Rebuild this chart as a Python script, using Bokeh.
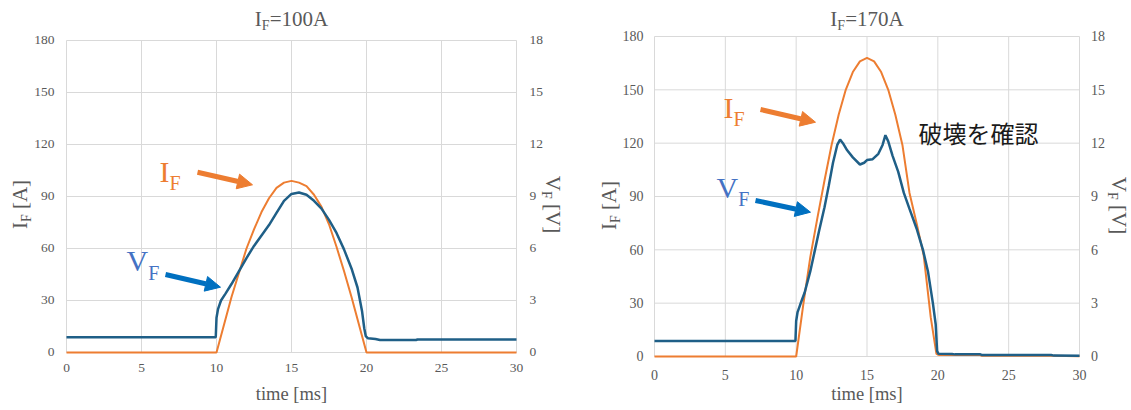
import math
from bokeh.plotting import figure
from bokeh.models import Range1d, Arrow, NormalHead
from bokeh.core.properties import value
from bokeh.layouts import row
from bokeh.embed import file_html
from bokeh.resources import INLINE

# ---------------- data ----------------
x_ticks = [0, 5, 10, 15, 20, 25, 30]
i_ticks = [0, 30, 60, 90, 120, 150, 180]
v_ticks = [0, 3, 6, 9, 12, 15, 18]
x_labels = [str(v) for v in x_ticks]
i_labels = [str(v) for v in i_ticks]
v_labels = [str(v) for v in v_ticks]

titles = ["100A", "170A"]

# left chart (IF = 100 A)
t_if_left = [0, 10, 10.5, 11, 11.5, 12, 12.5, 13, 13.5, 14, 14.5, 15, 15.5, 16, 16.5,
             17, 17.5, 18, 18.5, 19, 19.5, 20, 30]
if_left = [0, 0, 16, 32, 46, 60, 71, 81, 89, 95, 98, 99, 98, 96, 91,
           84, 74, 61, 47, 32, 16, 0, 0]
t_vf_left = [0, 9.95, 10.0, 10.1, 10.3, 10.6, 11, 11.5, 12, 12.5, 13, 13.5, 14, 14.5,
             15, 15.5, 16, 16.5, 17, 17.5, 18, 18.5, 19, 19.4, 19.7, 19.85, 19.95,
             20.1, 20.6, 20.9, 23.3, 23.4, 30]
vf_left = [0.88, 0.88, 2.0, 2.5, 3.0, 3.4, 3.95, 4.7, 5.45, 6.15, 6.75, 7.35, 8.05, 8.75,
           9.15, 9.23, 9.1, 8.75, 8.3, 7.65, 6.9, 5.95, 4.85, 3.75, 2.4, 1.4, 0.95,
           0.82, 0.78, 0.72, 0.72, 0.75, 0.75]

# right chart (IF = 170 A)
t_if_right = [0, 10, 10.5, 11, 11.5, 12, 12.5, 13, 13.5, 14, 14.5, 15, 15.5, 16, 16.5,
              17, 17.5, 18, 18.5, 19, 19.5, 19.9, 20.1, 23, 23.1, 28, 30]
if_right = [0, 0, 29, 56, 78, 99, 119, 136, 150, 160, 166, 168, 166, 160, 150,
            136, 119, 92, 75, 57, 22, 1.5, 0.8, 0.8, 0.4, 0.4, 0.2]
t_vf_right = [0, 9.95, 10.0, 10.1, 10.3, 10.6, 11, 11.3, 11.6, 12, 12.3, 12.6, 12.9, 13.1,
              13.3, 13.6, 14, 14.5, 14.8, 15, 15.4, 15.8, 16.1, 16.3, 16.5, 16.8, 17.2,
              17.6, 18, 18.5, 18.95, 19.3, 19.65, 19.85, 19.95, 20.05, 21, 21.2, 23,
              23.1, 28, 28.2, 30]
vf_right = [0.87, 0.87, 2.0, 2.5, 2.95, 3.6, 4.8, 5.9, 7.0, 8.4, 9.6, 10.9, 11.9, 12.2,
            12.0, 11.6, 11.2, 10.8, 10.9, 11.05, 11.1, 11.4, 11.9, 12.45, 12.1, 11.3, 10.4,
            9.2, 8.3, 7.2, 6.0, 4.8, 3.0, 1.8, 0.3, 0.15, 0.14, 0.12, 0.12,
            0.09, 0.08, 0.05, 0.04]

ORANGE = "#ED7D31"
BLUE_LINE = "#1F5F87"
BLUE_TEXT = "#4472C4"
BLUE_ARROW = "#0070C0"
GRAY = "#595959"
GRID = "#D9D9D9"
SERIF = "Liberation Serif"
H = 410
BASE_FIX = 0.34  # renderer draws the "alphabetic" anchor about a third of an em high

# Times-like advance widths (em)
ADV = {'I': 0.333, 'F': 0.556, 'V': 0.722, '=': 0.564, 'A': 0.722, ' ': 0.25,
       '[': 0.333, ']': 0.333}


def tw(s, size):
    return sum(ADV.get(c, 0.5) for c in s) * size


class Geom:
    def __init__(self, off, width, fl, ft, fr, fb):
        self.off, self.w = off, width
        self.fl, self.ft, self.fr, self.fb = fl - off, ft, fr - off, fb
        self.sx = (self.fr - self.fl) / (x_ticks[-1] - x_ticks[0])
        self.sy = (self.fb - self.ft) / (i_ticks[-1] - i_ticks[0])
        self.vr = (i_ticks[-1] - i_ticks[0]) / (v_ticks[-1] - v_ticks[0])

    def x(self, px):
        return (px - self.off - self.fl) / self.sx

    def y(self, py):
        return (self.fb - py) / self.sy


def make_chart(g):
    xr = Range1d(-g.fl / g.sx, (g.w - g.fl) / g.sx)
    yr = Range1d(-(H - g.fb) / g.sy, i_ticks[-1] + g.ft / g.sy)
    p = figure(width=g.w, height=H, x_range=xr, y_range=yr, title=None,
               output_backend="svg", toolbar_location=None,
               x_axis_location=None, y_axis_location=None, min_border=0,
               background_fill_color="white", border_fill_color="white")
    p.outline_line_color = None
    p.grid.visible = False
    p.extra_y_ranges = {"v": Range1d(yr.start / g.vr, yr.end / g.vr)}
    n = len(x_ticks)
    m = len(i_ticks)
    p.segment(x0=x_ticks, y0=[i_ticks[0]] * n, x1=x_ticks, y1=[i_ticks[-1]] * n,
              line_color=GRID, line_width=1)
    p.segment(x0=[x_ticks[0]] * m, y0=i_ticks, x1=[x_ticks[-1]] * m, y1=i_ticks,
              line_color=GRID, line_width=1)
    return p


def txt(p, g, px, py, s, size, color, font=SERIF, angle=0.0, align="left",
        baseline="alphabetic"):
    if baseline == "alphabetic":
        if angle == 0.0:
            py -= BASE_FIX * size
        elif angle > 0:
            px -= BASE_FIX * size
        else:
            px += BASE_FIX * size
    p.text(x=[g.x(px)], y=[g.y(py)], text=[s], text_font=value(font),
           text_font_size=value(f"{size}px"), text_color=color, angle=angle,
           text_align=align, text_baseline=baseline)


def ticks(p, g, size, xbase, lgap, rgap):
    d = size * (0.33 - BASE_FIX)  # digit half-height minus anchor correction
    p.text(x=x_ticks, y=[g.y(g.fb + xbase - BASE_FIX * size)] * len(x_ticks),
           text=x_labels, text_font=value(SERIF), text_font_size=value(f"{size}px"),
           text_color=GRAY, text_align="center", text_baseline="alphabetic")
    p.text(x=[g.x(g.fl + g.off - lgap)] * len(i_ticks), y=[v - d / g.sy for v in i_ticks],
           text=i_labels, text_font=value(SERIF), text_font_size=value(f"{size}px"),
           text_color=GRAY, text_align="right", text_baseline="alphabetic")
    p.text(x=[g.x(g.fr + g.off + rgap)] * len(v_ticks),
           y=[v - d / (g.sy * g.vr) for v in v_ticks], y_range_name="v",
           text=v_labels, text_font=value(SERIF), text_font_size=value(f"{size}px"),
           text_color=GRAY, text_align="left", text_baseline="alphabetic")


def sub_label(p, g, px, py, main, sub, rest, size, subsize, color, drop, angle=0.0,
              gap=0.0):
    wm = tw(main, size)
    ws = tw(sub, subsize) + gap
    if angle == 0.0:
        txt(p, g, px, py, main, size, color)
        txt(p, g, px + wm, py + drop, sub, subsize, color)
        if rest:
            txt(p, g, px + wm + ws, py, rest, size, color)
    elif angle > 0:  # reads bottom to top
        txt(p, g, px, py, main, size, color, angle=angle)
        txt(p, g, px + drop, py - wm, sub, subsize, color, angle=angle)
        if rest:
            txt(p, g, px, py - wm - ws, rest, size, color, angle=angle)
    else:  # reads top to bottom
        txt(p, g, px, py, main, size, color, angle=angle)
        txt(p, g, px - drop, py + wm, sub, subsize, color, angle=angle)
        if rest:
            txt(p, g, px, py + wm + ws, rest, size, color, angle=angle)


def arrow(p, g, p0, p1, color):
    p.add_layout(Arrow(x_start=g.x(p0[0]), y_start=g.y(p0[1]),
                       x_end=g.x(p1[0]), y_end=g.y(p1[1]),
                       line_color=color, line_width=5,
                       end=NormalHead(size=15, fill_color=color, line_color=color,
                                      line_width=1)))


def decorate(p, g, title_rest, ylab_x, vlab_x, lab_cy, xlab_base):
    cx = g.off + (g.fl + g.fr) / 2
    tot = tw("I", 21) + tw("F", 14) + tw(title_rest, 21)
    sub_label(p, g, cx - tot / 2, 25.5, "I", "F", title_rest, 21, 14, GRAY, 4.5)
    txt(p, g, cx, xlab_base, "time [ms]", 18.5, GRAY, align="center")
    fs, ss = 21, 14
    sp = tw(" ", fs)
    tot = tw("I", fs) + tw("F", ss) + sp + tw("[A]", fs)
    sub_label(p, g, ylab_x, lab_cy + tot / 2, "I", "F", "[A]", fs, ss, GRAY, 3.5,
              angle=math.pi / 2, gap=sp)
    tot = tw("V", fs) + tw("F", ss) + sp + tw("[V]", fs)
    sub_label(p, g, vlab_x, lab_cy - tot / 2, "V", "F", "[V]", fs, ss, GRAY, 3.5,
              angle=-math.pi / 2, gap=sp)


# ---------------- left chart ----------------
gL = Geom(0, 570, 66, 40, 516, 352)
pL = make_chart(gL)
ticks(pL, gL, 13.5, 20.5, 12, 13)
pL.line(t_if_left, if_left, line_color=ORANGE, line_width=2)
pL.line(t_vf_left, vf_left, line_color=BLUE_LINE, line_width=2.5, y_range_name="v")
decorate(pL, gL, "=" + titles[0], 27, 545, 204, 400)
sub_label(pL, gL, 159, 181, "I", "F", "", 30, 20, ORANGE, 8)
arrow(pL, gL, (197, 171.7), (252, 184.3), ORANGE)
sub_label(pL, gL, 126, 270, "V", "F", "", 30, 20, BLUE_TEXT, 9)
arrow(pL, gL, (165, 274), (220, 286.7), BLUE_ARROW)

# ---------------- right chart ----------------
gR = Geom(570, 561, 654, 36, 1079, 356)
pR = make_chart(gR)
ticks(pR, gR, 14, 23.5, 11, 11.5)
pR.line(t_if_right, if_right, line_color=ORANGE, line_width=2)
pR.line(t_vf_right, vf_right, line_color=BLUE_LINE, line_width=2.5, y_range_name="v")
decorate(pR, gR, "=" + titles[1], 616, 1111, 205, 400)
sub_label(pR, gR, 723, 117, "I", "F", "", 30, 20, ORANGE, 8)
arrow(pR, gR, (760, 109), (815, 121.7), ORANGE)
sub_label(pR, gR, 716, 197, "V", "F", "", 30, 20, BLUE_TEXT, 8)
arrow(pR, gR, (755, 200), (810, 211.7), BLUE_ARROW)
txt(pR, gR, 918, 132, "破壊を確認", 24, "#1A1A1A", font="Noto Sans CJK JP",
    baseline="middle")

layout = row(pL, pR)
open("out.html", "w").write(file_html(layout, INLINE))
